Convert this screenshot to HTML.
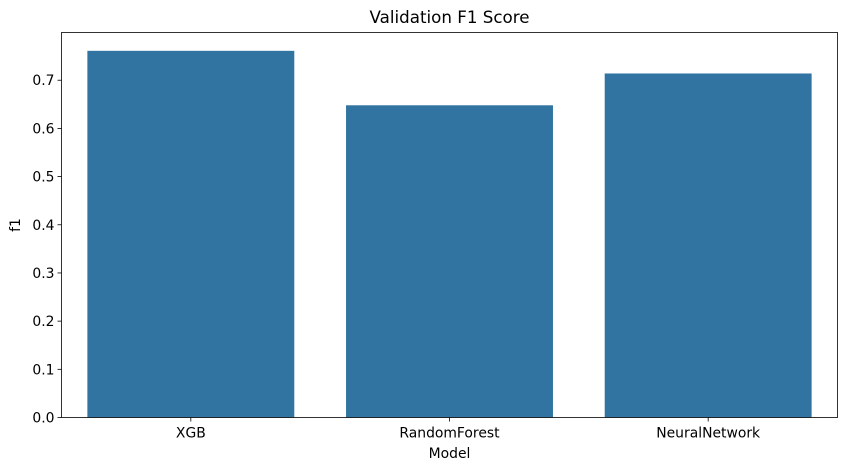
<!DOCTYPE html>
<html><head><meta charset="utf-8"><style>
body{margin:0;background:#fff;}
text{font-family:"DejaVu Sans","Liberation Sans",sans-serif;fill:#000;}
</style></head><body>
<svg id="chart" width="846" height="470" xmlns="http://www.w3.org/2000/svg">
<text x="449.5" y="23" font-size="16.7" text-anchor="middle">Validation F1 Score</text>
<g id="plot"></g>
<text x="449.5" y="458" font-size="13.9" text-anchor="middle">Model</text>
<text transform="translate(20,225) rotate(-90)" font-size="13.9" text-anchor="middle">f1</text>
</svg>
<script>
const categories = ["XGB","RandomForest","NeuralNetwork"];
const f1Values = [0.761, 0.648, 0.714];
const yTicks = [0.0,0.1,0.2,0.3,0.4,0.5,0.6,0.7];
const yTickLabels = ["0.0","0.1","0.2","0.3","0.4","0.5","0.6","0.7"];
const L=61.5,R=837.5,T=32.5,B=417.5,yMax=Math.max(...f1Values)*1.05;
const y=v=>B-(B-T)*v/yMax;
const band=(R-L)/categories.length;
const x=i=>L+band*(i+0.5);
const ns="http://www.w3.org/2000/svg";
const g=document.getElementById('plot');
function mk(t,a){const e=document.createElementNS(ns,t);for(const k in a)e.setAttribute(k,a[k]);g.appendChild(e);return e;}
f1Values.forEach((v,i)=>{
 const r=mk('rect',{x:x(i)-band*0.4,y:y(v),width:band*0.8,height:B-y(v),fill:'#3274a1'});
 
 
 const tk=mk('line',{x1:x(i),x2:x(i),y1:B,y2:B+4,stroke:'#000','stroke-width':0.8});
 
 
 const tl=mk('text',{x:x(i),y:B+20,'font-size':13.9,'text-anchor':'middle'});
 tl.textContent=categories[i];
 
 
});
yTicks.forEach((v,i)=>{
 const tk=mk('line',{x1:L-4,x2:L,y1:y(v),y2:y(v),stroke:'#000','stroke-width':0.8});
 
 
 const tl=mk('text',{x:L-7,y:y(v)+5,'font-size':13.9,'text-anchor':'end'});
 tl.textContent=yTickLabels[i];
 
 
});
const fr=mk('rect',{x:L,y:T,width:R-L,height:B-T,fill:'none',stroke:'#000','stroke-width':0.8});


</script>
</body></html>
